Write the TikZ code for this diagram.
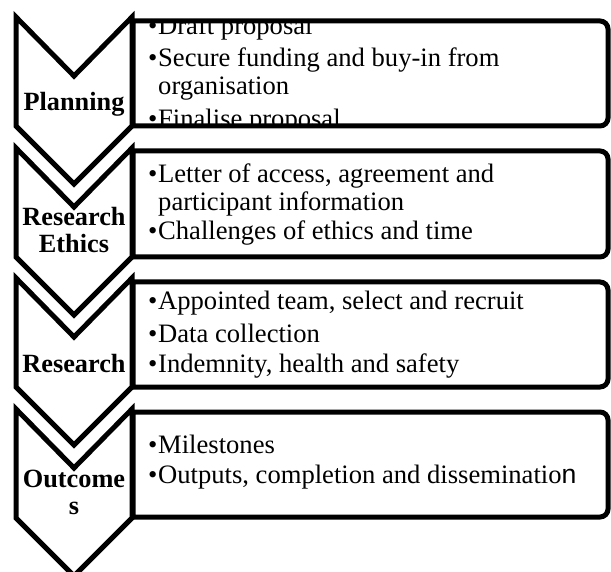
\documentclass[tikz,border=0pt]{standalone}
\usepackage{fontspec}
\setmainfont{Liberation Serif}
\newfontfamily\lastnfont{Liberation Sans}
\newcommand{\bul}{\makebox[10pt][l]{•}}
\def\chevron(#1){\draw[outline] (16,#1) -- (74,#1+59) -- (132,#1) -- (132,#1+109) -- (74,#1+167) -- (16,#1+109) -- cycle;}
\def\tagbox(#1:#2)#3{\begin{scope}\clip (133,#1) -- (600,#1) arc (-90:0:8) -- (608,#2-8) arc (0:90:8) -- (133,#2) -- cycle; #3\end{scope}
	\draw[outline] (133,#1) -- (600,#1) arc (-90:0:8) -- (608,#2-8) arc (0:90:8) -- (133,#2) -- cycle;}

\begin{document}
\begin{tikzpicture}[x=1pt, y=-1pt,
	outline/.style={line width=5pt, line join=miter},
	item/.style={anchor=base west, inner sep=0pt, font=\fontsize{26.6}{28}\selectfont},
	stage/.style={anchor=base, inner sep=0pt, font=\bfseries\fontsize{26.3}{27}\selectfont}]
			%%%%% START %%%%%
			\useasboundingbox (0,0) rectangle (611,572);
			
			\chevron(17)
			\chevron(148)
			\chevron(278)
			\chevron(409)
			
			\node[stage] (planning) at (74, 111) {Planning};
			\node[stage] (ethics) at (74, 226) {\parbox[t]{110pt}{\centering Research\\Ethics}};
			\node[stage] (research) at (74, 372) {Research};
			\node[stage] (outcomes) at (74, 487) {\parbox[t]{110pt}{\centering Outcome\\s}};
			
			\tagbox(21:126){
				\node[item] (draft) at (148, 35) {\bul Draft proposal};
				\node[item] (funding) at (148, 67) {\parbox[t]{450pt}{\bul Secure funding and buy-in from\\\hspace*{10pt}organisation}};
				\node[item] (finalise) at (148, 128) {\bul Finalise proposal};
			}
			\tagbox(151:257){
				\node[item] (access) at (148, 183) {\parbox[t]{450pt}{\bul Letter of access, agreement and\\\hspace*{10pt}participant information}};
				\node[item] (challenges) at (148, 240) {\bul Challenges of ethics and time};
			}
			\tagbox(282:387){
				\node[item] (team) at (148, 309) {\bul Appointed team, select and recruit};
				\node[item] (data) at (148, 342) {\bul Data collection};
				\node[item] (safety) at (148, 373) {\bul Indemnity, health and safety};
			}
			\tagbox(412:517){
				\node[item] (milestones) at (148, 453) {\bul Milestones};
				\node[item] (outputs) at (148, 483) {\bul Outputs, completion and disseminatio{\lastnfont n}};
			}
			
			%%%%% END %%%%%
\end{tikzpicture}
\end{document}
